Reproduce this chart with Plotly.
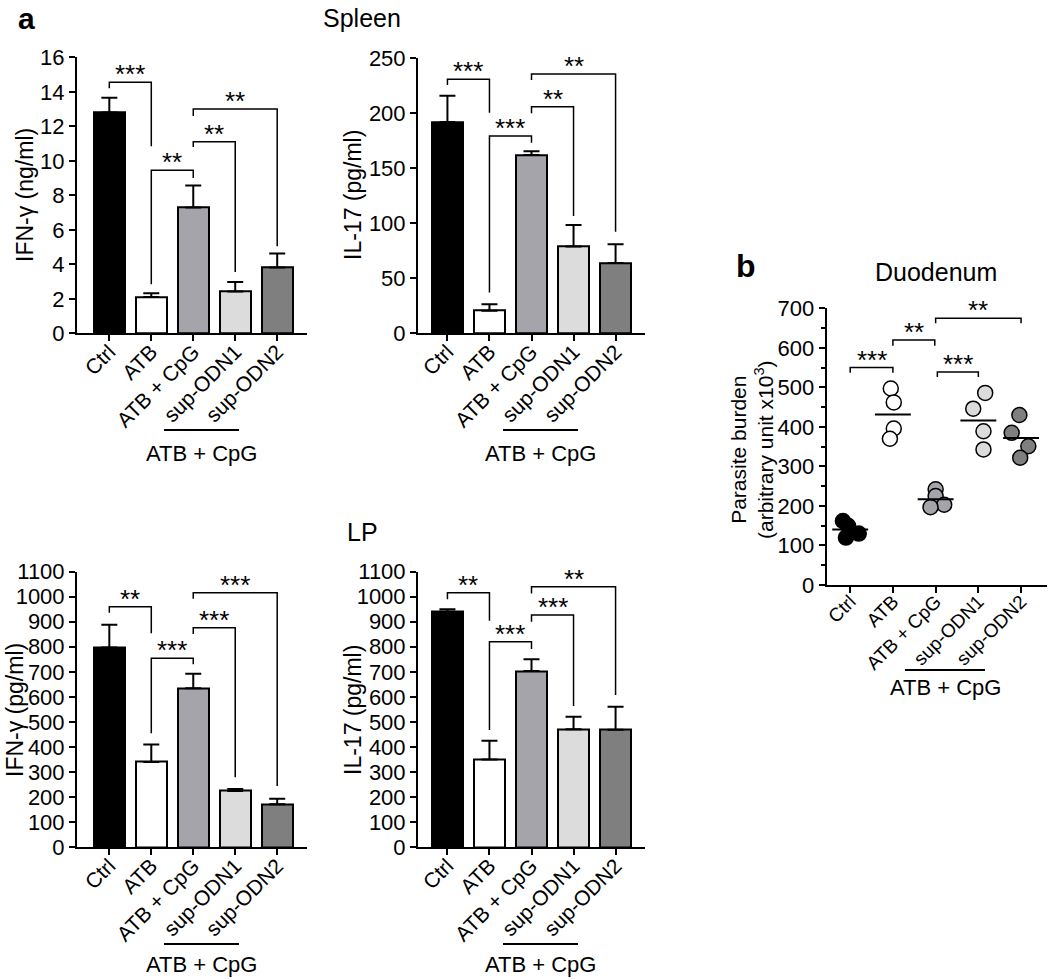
import plotly.graph_objects as go
import numpy as np

# ---------------- data ----------------
categories = ["Ctrl", "ATB", "ATB + CpG", "sup-ODN1", "sup-ODN2"]
bar_colors = ["#000000", "#ffffff", "#a4a4aa", "#dcdcdc", "#7f7f7f"]

spleen_ifng_mean = [12.8, 2.1, 7.3, 2.42, 3.82]
spleen_ifng_sem = [0.85, 0.22, 1.27, 0.55, 0.8]
spleen_il17_mean = [192, 20.5, 162, 79, 64]
spleen_il17_sem = [24, 6, 3.5, 19.5, 17]
lp_ifng_mean = [797, 340, 635, 225, 172]
lp_ifng_sem = [91, 70, 57, 8, 22]
lp_il17_mean = [940, 350, 703, 471, 469]
lp_il17_sem = [10, 75, 47, 50, 92]

duo_ctrl = [162, 150, 120, 130]
duo_atb = [497, 462, 396, 370]
duo_atb_cpg = [242, 225, 203, 197]
duo_sup1 = [486, 446, 389, 343]
duo_sup2 = [430, 385, 351, 322]
duo_groups = [duo_ctrl, duo_atb, duo_atb_cpg, duo_sup1, duo_sup2]

# significance brackets: (from, to, top, left leg end, right leg end, label)
spleen_ifng_sig = [(0, 1, 14.55, 14.2, 10.85, "***"), (1, 2, 9.45, 2.85, 9.0, "**"),
                   (2, 3, 11.1, 10.8, 3.55, "**"), (2, 4, 13.0, 12.6, 5.05, "**")]
spleen_il17_sig = [(0, 1, 231, 225.7, 200.5, "***"), (1, 2, 179.4, 37, 173.3, "***"),
                   (2, 3, 206, 200, 106.6, "**"), (2, 4, 235.7, 230.3, 92.4, "**")]
lp_ifng_sig = [(0, 1, 960, 936, 854, "**"), (1, 2, 754, 455, 730, "***"),
               (2, 3, 876, 851, 279, "***"), (2, 4, 1016, 992, 245, "***")]
lp_il17_sig = [(0, 1, 1016, 990, 904, "**"), (1, 2, 820, 468, 791, "***"),
               (2, 3, 927, 900, 564, "***"), (2, 4, 1040, 1013, 608, "**")]
duo_sig = [(0, 1, 550, 537, 537, "***"), (1, 1.98, 620, 605, 605, "**"),
           (2.04, 3, 539, 526, 526, "***"), (2, 4, 675, 662, 662, "**")]

# ---------------- style/layout helpers ----------------
W, H = 1050, 980
FONT = "Arial, Liberation Sans, sans-serif"
def px(x):
    return x / W
def py(y):
    return 1 - y / H

duo_offsets = [[-0.17, -0.05, -0.1, 0.2], [-0.05, 0.02, 0.02, -0.07],
               [0.0, 0.0, 0.2, -0.12], [0.16, -0.12, 0.12, 0.12],
               [-0.04, -0.22, 0.17, -0.02]]

fig = go.Figure()
annotations = []
shapes = []

panels = [
    ("", spleen_ifng_mean, spleen_ifng_sem, spleen_ifng_sig, [77, 307], [333.3, 57.3], [0, 16], 2, [-0.77, 4.71]),
    ("2", spleen_il17_mean, spleen_il17_sem, spleen_il17_sig, [418, 645], [333.3, 58.3], [0, 250], 50, [-0.70, 4.70]),
    ("3", lp_ifng_mean, lp_ifng_sem, lp_ifng_sig, [77, 307], [847.3, 571.6], [0, 1100], 100, [-0.77, 4.71]),
    ("4", lp_il17_mean, lp_il17_sem, lp_il17_sig, [418, 645], [847.3, 571.6], [0, 1100], 100, [-0.70, 4.70]),
]

axis_common = dict(showline=True, linecolor="black", linewidth=2, ticks="outside",
                   ticklen=6, tickwidth=2, tickcolor="black", showgrid=False,
                   zeroline=False, automargin=False)
ytickfont = dict(family=FONT, size=22, color="black")
xtickfont = dict(family=FONT, size=21, color="black")

layout_axes = {}
STAR = 26

def add_brackets(sig, sfx):
    xr = "x" + sfx
    yr = "y" + sfx
    for (a, b, top, le, re, lab) in sig:
        shapes.append(dict(type="path", xref=xr, yref=yr,
                           path=f"M {a},{le} L {a},{top} L {b},{top} L {b},{re}",
                           line=dict(color="black", width=1.5)))
        annotations.append(dict(x=(a + b) / 2, y=top, xref=xr, yref=yr, text=lab,
                                showarrow=False, yanchor="bottom", yshift=-9,
                                font=dict(family=FONT, size=STAR, color="black")))

for sfx, mean, sem, sig, xd, yd, yr_, dt, xr_ in panels:
    fig.add_trace(go.Bar(
        x=list(range(len(categories))), y=mean, width=0.74,
        marker=dict(color=bar_colors, line=dict(color="black", width=2)),
        error_y=dict(type="data", array=sem, arrayminus=[0] * len(sem), symmetric=False,
                     color="black", thickness=2, width=8),
        xaxis="x" + sfx, yaxis="y" + sfx, showlegend=False))
    layout_axes["xaxis" + sfx] = dict(axis_common, domain=[px(xd[0]), px(xd[1])],
                                      anchor="y" + sfx, range=xr_, tickangle=-45,
                                      tickvals=list(range(5)), ticktext=categories,
                                      tickfont=xtickfont)
    layout_axes["yaxis" + sfx] = dict(axis_common, domain=[py(yd[0]), py(yd[1])],
                                      anchor="x" + sfx, range=yr_, dtick=dt,
                                      tickfont=ytickfont)
    add_brackets(sig, sfx)

# ---------------- panel b ----------------
for i, (vals, offs) in enumerate(zip(duo_groups, duo_offsets)):
    fig.add_trace(go.Scatter(
        x=[i + o for o in offs], y=vals, mode="markers",
        marker=dict(size=15, color=bar_colors[i], line=dict(color="black", width=1.5)),
        xaxis="x5", yaxis="y5", showlegend=False, cliponaxis=False))
    m = float(np.mean(vals))
    fig.add_trace(go.Scatter(x=[i - 0.42, i + 0.42], y=[m, m], mode="lines",
                             line=dict(color="black", width=2),
                             xaxis="x5", yaxis="y5", showlegend=False))

layout_axes["xaxis5"] = dict(axis_common, domain=[px(826.7), px(1046.7)], anchor="y5",
                             range=[-0.55, 4.6], tickangle=-45, tickvals=list(range(5)),
                             ticktext=categories,
                             tickfont=dict(family=FONT, size=19, color="black"))
layout_axes["yaxis5"] = dict(axis_common, domain=[py(585), py(308.3)], anchor="x5",
                             range=[0, 700], dtick=100, tickfont=ytickfont,
                             minor=dict(dtick=50, ticks="outside", ticklen=4, tickwidth=2,
                                        tickcolor="black"))
add_brackets(duo_sig, "5")

# ---------------- texts ----------------
def txt(x, y, t, size=23, angle=0, bold=False, yanchor="middle"):
    annotations.append(dict(x=px(x), y=py(y), xref="paper", yref="paper",
                            text=f"<b>{t}</b>" if bold else t, showarrow=False,
                            textangle=angle, xanchor="center", yanchor=yanchor,
                            font=dict(family=FONT, size=size, color="black")))

txt(26, 0, "a", size=30, bold=True, yanchor="top")
txt(362, 18, "Spleen", size=25)
txt(362, 532, "LP", size=25)
txt(746, 266, "b", size=32, bold=True)
txt(936, 272, "Duodenum", size=25)

txt(25, 195, "IFN-γ (ng/ml)", angle=-90)
txt(353, 195, "IL-17 (pg/ml)", angle=-90)
txt(15, 710, "IFN-γ (pg/ml)", angle=-90)
txt(353, 710, "IL-17 (pg/ml)", angle=-90)
txt(752, 450, "Parasite burden<br>(arbitrary unit x10<sup>3</sup>)", size=21, angle=-90)

# group underline + label
for (x0, x1, yl, yt) in [(164, 239, 430, 453), (503, 578, 430, 453),
                         (164, 239, 944, 964), (503, 578, 944, 964),
                         (905, 985, 670, 687)]:
    shapes.append(dict(type="line", xref="paper", yref="paper", x0=px(x0), x1=px(x1),
                       y0=py(yl), y1=py(yl), line=dict(color="black", width=2)))
    txt((x0 + x1) / 2, yt, "ATB + CpG", size=22)

fig.update_layout(width=W, height=H, margin=dict(l=0, r=0, t=0, b=0, autoexpand=False),
                  plot_bgcolor="white", paper_bgcolor="white", showlegend=False,
                  annotations=annotations, shapes=shapes, bargap=0,
                  font=dict(family=FONT, color="black"), **layout_axes)

try:
    fig.update_xaxes(ticklabelstandoff=-10)
except Exception:
    pass

fig.write_html("out.html", config={"displayModeBar": False},
               post_script="document.body.style.margin='0';document.body.style.overflow='hidden';")
